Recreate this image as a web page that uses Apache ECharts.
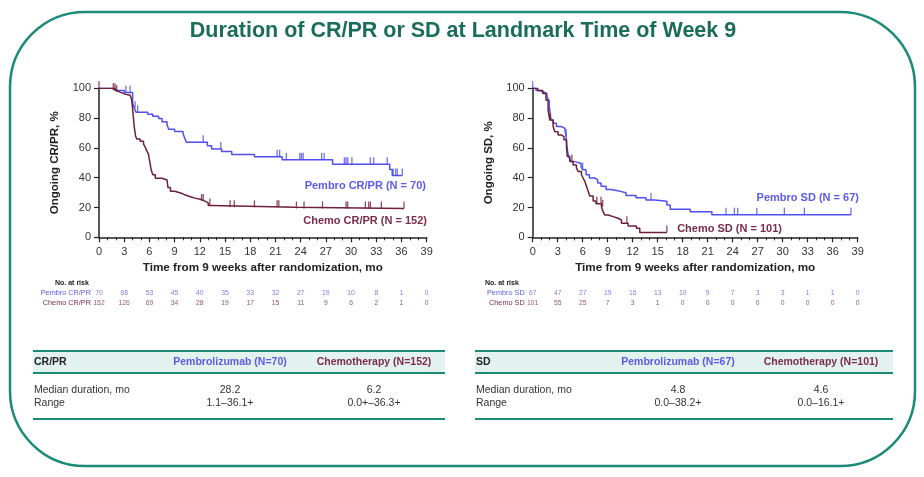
<!DOCTYPE html>
<html><head><meta charset="utf-8">
<script src="https://cdn.jsdelivr.net/npm/echarts@6/dist/echarts.min.js"></script>
<style>html,body{margin:0;padding:0;background:#fff}#c{width:924px;height:477px}</style>
</head><body><div id="c"></div>
<script>
// ---------- DATA ----------
const riskTimes = [0,3,6,9,12,15,18,21,24,27,30,33,36,39];
const pembroCRPR_risk = [70,68,53,45,40,35,33,32,27,19,10,8,1,0];
const chemoCRPR_risk  = [152,126,69,34,28,19,17,15,11,9,6,2,1,0];
const pembroSD_risk   = [67,47,27,19,16,13,10,9,7,3,3,1,1,0];
const chemoSD_risk    = [101,55,25,7,3,1,0,0,0,0,0,0,0,0];

// KM step curves: time (mo) and ongoing %
const pembroCRPR_t = [0,1.9,3.0,4.0,4.2,4.4,5.8,6.4,7.1,7.5,8.1,8.3,9.0,10.0,10.2,10.4,12.9,13.4,14.6,15.8,18.5,21.8,27.8,34.6,34.9,36.1];
const pembroCRPR_s = [100,98.5,97.1,90,86.6,84,82.6,81.2,79.8,77.6,75.4,72.5,71,69.6,66.7,63.8,61.5,59.2,57.6,55.5,54.1,52,49,45.5,41.5,41.5];
const pembroCRPR_cens = [3.2,3.7,4.3,4.6,12.4,14.5,21.2,21.5,22.3,23.9,24.1,24.3,26.5,26.8,29.2,29.4,29.6,30.1,32.3,32.7,34.3,35.0,35.3,35.5,36.1];

const chemoCRPR_t = [0,1.6,2.1,2.5,3.1,3.7,3.9,4.0,4.1,4.2,4.35,4.5,4.9,5.3,5.5,5.7,5.9,6.0,6.1,6.2,6.4,6.7,7.5,8.1,8.2,8.5,9.0,9.8,10.2,10.8,11.4,12.2,12.6,13.0,13.4,23.4,36.3];
const chemoCRPR_s = [100,98.7,97.4,96.1,95.4,94.1,92.1,86,80,74,68,66,64.5,62.5,60.5,58,55.5,52,49,45.5,42,39.6,38.5,37.2,33.5,30.9,29.6,28.5,27.4,26.3,25.3,24.3,23.1,21.4,20.1,19.3,19.3];
const chemoCRPR_cens = [0,1.7,1.9,2.1,12.2,12.4,13.2,15.6,16.1,18.5,21.2,21.4,23.5,24.4,26.6,29.4,29.6,31.7,32.1,32.3,33.6,36.3];

const pembroSD_t = [0,0.4,0.9,1.3,1.7,1.9,2.0,2.1,2.2,2.45,2.85,3.45,3.85,4.0,4.1,4.2,4.4,4.6,5.0,5.8,6.0,6.4,6.8,7.4,7.8,8.2,8.8,9.4,10.4,11.2,12.4,13.6,14.6,16.1,16.5,18.9,21.5,38.2];
const pembroSD_s = [100,98.5,97.5,96.5,94.8,92,87.7,83.2,78.7,76.5,74.3,73.2,72.1,68,62,57,53,50.8,49.7,47.5,45.3,42,39.8,38.7,36.5,34.3,32.1,31,29.9,28.1,26.6,25,24.2,21.7,18.8,17.2,15.2,15.2];
const pembroSD_cens = [0,2.0,4.0,6.0,14.2,23.2,24.2,24.6,26.9,30.2,32.6,38.2];

const chemoSD_t = [0,0.6,1.2,1.6,1.85,2.05,2.45,2.65,3.05,3.45,3.75,4.05,4.15,4.45,4.85,5.25,5.45,5.85,6.05,6.25,6.45,6.65,6.85,7.25,7.6,8.25,8.45,8.65,9.05,9.65,10.25,10.65,11.45,12.45,12.85,16.1];
const chemoSD_s = [100,98.5,96.5,92,85.4,78.7,74.3,70.9,68.7,67.6,65.4,61,54.3,50.8,48.6,46.4,44.2,42,39.8,37.6,34.3,31,27.7,24.4,22.5,20.5,17.2,15,13.9,12.8,11.6,9.4,7.6,6.1,3.2,3.2];
const chemoSD_cens = [2.1,4.7,7.7,8.2,8.4,11.3,16.1];

// ---------- STYLE ----------
const BLUE = '#4f4ff0', MAROON = '#6e1f3b';
const BLUE_T = '#5b5be6', MAROON_T = '#7a2d47';
const TEAL = '#1b8a78', TITLE = '#1a6c5b';
const FF = "'Liberation Sans', Arial, sans-serif";

function survAt(t, ts, ss){ let v = ss[0]; for(let i=0;i<ts.length;i++){ if(ts[i] <= t) v = ss[i]; } return v; }
function zip(ts, ss){ return ts.map((t,i)=>[t, ss[i]]); }
function cens(c, ts, ss){ return c.map(t=>[t, survAt(t, ts, ss)]); }

const G = [
  {left:99, top:88.3, width:327.7, height:149},
  {left:532.7, top:88.3, width:325, height:149},
  {left:99, top:287.5, width:327.7, height:20.6},
  {left:532.7, top:287.5, width:325, height:20.6}
];

function xAx(i){ return {gridIndex:i, type:'value', min:0, max:39, interval:3,
  name:'Time from 9 weeks after randomization, mo', nameLocation:'middle', nameGap:24,
  nameTextStyle:{fontFamily:FF, fontWeight:'bold', fontSize:11.7, color:'#222'},
  axisLine:{lineStyle:{color:'#222', width:1.5}}, axisTick:{length:5, lineStyle:{color:'#222', width:1.2}},
  minorTick:{show:true, splitNumber:3, length:3, lineStyle:{color:'#222', width:1}},
  axisLabel:{fontFamily:FF, fontSize:11, color:'#333', margin:9}, splitLine:{show:false}}; }
function yAx(i, name){ return {gridIndex:i, type:'value', min:0, max:100, interval:20,
  name:name, nameLocation:'middle', nameGap:38, nameRotate:90,
  nameTextStyle:{fontFamily:FF, fontWeight:'bold', fontSize:11.5, color:'#222'},
  axisLine:{show:true, lineStyle:{color:'#222', width:1.5}}, axisTick:{show:true, length:5, lineStyle:{color:'#222', width:1.2}},
  axisLabel:{fontFamily:FF, fontSize:11, color:'#333', margin:8}, splitLine:{show:false}}; }
function riskX(i){ return {gridIndex:i, type:'value', min:0, max:39, show:false}; }
function riskY(i, cats){ return {gridIndex:i, type:'category', data:cats, inverse:true, axisLine:{show:false}, axisTick:{show:false},
  axisLabel:{interval:0, margin:8, fontFamily:FF, fontSize:7.3, formatter:(v,idx)=> idx===0 ? '{p|'+v+'}' : '{c|'+v+'}',
    rich:{p:{color:BLUE_T, fontSize:7.3, fontFamily:FF}, c:{color:MAROON_T, fontSize:7.3, fontFamily:FF}}}}; }

function line(xi, ts, ss, col){ return {type:'line', xAxisIndex:xi, yAxisIndex:xi, data:zip(ts,ss), step:'end', showSymbol:false,
  lineStyle:{color:col, width:1.5}, itemStyle:{color:col}, animation:false, z:3}; }
function ticks(xi, c, ts, ss, col){ return {type:'scatter', xAxisIndex:xi, yAxisIndex:xi, data:cens(c,ts,ss), symbol:'rect',
  symbolSize:[1.3,7], symbolOffset:[0,-3.5], itemStyle:{color:col}, clip:false, animation:false, z:4}; }
function risk(xi, cat, vals, col){ return {type:'scatter', xAxisIndex:xi, yAxisIndex:xi, data:riskTimes.map((t,i)=>[t, cat, vals[i]]),
  symbolSize:0, label:{show:true, position:'inside', formatter:p=>p.value[2], fontFamily:FF, fontSize:6.8, color:col}, animation:false}; }

function txt(x,y,s,o){ return Object.assign({type:'text', x:x, y:y, style:Object.assign({text:s, fontFamily:FF, fontSize:10.5, fill:'#333', textVerticalAlign:'middle'}, o||{})}); }
function table(x0, x1, c1, c2, head, h1, h2, med1, med2, r1, r2){
  return [
    {type:'rect', shape:{x:x0, y:351, width:x1-x0, height:22}, style:{fill:'#e2f3ef'}},
    {type:'line', shape:{x1:x0, y1:351, x2:x1, y2:351}, style:{stroke:TEAL, lineWidth:2}},
    {type:'line', shape:{x1:x0, y1:373, x2:x1, y2:373}, style:{stroke:TEAL, lineWidth:2}},
    {type:'line', shape:{x1:x0, y1:419, x2:x1, y2:419}, style:{stroke:TEAL, lineWidth:2}},
    txt(x0+1, 362, head, {fontWeight:'bold', fill:'#222'}),
    txt(c1, 362, h1, {fontWeight:'bold', fill:BLUE_T, textAlign:'center'}),
    txt(c2, 362, h2, {fontWeight:'bold', fill:MAROON_T, textAlign:'center'}),
    txt(x0+1, 390, 'Median duration, mo'), txt(x0+1, 403, 'Range'),
    txt(c1, 390, med1, {textAlign:'center'}), txt(c2, 390, med2, {textAlign:'center'}),
    txt(c1, 403, r1, {textAlign:'center'}), txt(c2, 403, r2, {textAlign:'center'})
  ];
}

const chart = echarts.init(document.getElementById('c'), null, {renderer:'canvas'});
chart.setOption({
  animation:false,
  backgroundColor:'#fff',
  grid:G,
  xAxis:[xAx(0), xAx(1), riskX(2), riskX(3)],
  yAxis:[yAx(0,'Ongoing CR/PR, %'), yAx(1,'Ongoing SD, %'), riskY(2,['Pembro CR/PR','Chemo CR/PR']), riskY(3,['Pembro SD','Chemo SD'])],
  series:[
    line(0, pembroCRPR_t, pembroCRPR_s, BLUE), line(0, chemoCRPR_t, chemoCRPR_s, MAROON),
    ticks(0, pembroCRPR_cens, pembroCRPR_t, pembroCRPR_s, BLUE), ticks(0, chemoCRPR_cens, chemoCRPR_t, chemoCRPR_s, MAROON),
    line(1, pembroSD_t, pembroSD_s, BLUE), line(1, chemoSD_t, chemoSD_s, MAROON),
    ticks(1, pembroSD_cens, pembroSD_t, pembroSD_s, BLUE), ticks(1, chemoSD_cens, chemoSD_t, chemoSD_s, MAROON),
    risk(2, 'Pembro CR/PR', pembroCRPR_risk, BLUE_T), risk(2, 'Chemo CR/PR', chemoCRPR_risk, MAROON_T),
    risk(3, 'Pembro SD', pembroSD_risk, BLUE_T), risk(3, 'Chemo SD', chemoSD_risk, MAROON_T)
  ],
  graphic:[
    {type:'rect', shape:{x:10, y:12, width:905, height:454, r:75}, style:{fill:'none', stroke:TEAL, lineWidth:2.5}},
    txt(463, 31, 'Duration of CR/PR or SD at Landmark Time of Week 9', {fontSize:21.5, fontWeight:'bold', fill:TITLE, textAlign:'center'}),
    txt(426, 186, 'Pembro CR/PR (N = 70)', {fontSize:11, fontWeight:'bold', fill:BLUE_T, textAlign:'right'}),
    txt(427, 220.5, 'Chemo CR/PR (N = 152)', {fontSize:11, fontWeight:'bold', fill:MAROON_T, textAlign:'right'}),
    txt(859, 197.5, 'Pembro SD (N = 67)', {fontSize:11, fontWeight:'bold', fill:BLUE_T, textAlign:'right'}),
    txt(782, 229, 'Chemo SD (N = 101)', {fontSize:11, fontWeight:'bold', fill:MAROON_T, textAlign:'right'}),
    txt(55, 283, 'No. at risk', {fontSize:7, fontWeight:'bold', fill:'#222'}),
    txt(485, 283, 'No. at risk', {fontSize:7, fontWeight:'bold', fill:'#222'})
  ].concat(
    table(33, 445, 230, 374, 'CR/PR', 'Pembrolizumab (N=70)', 'Chemotherapy (N=152)', '28.2', '6.2', '1.1\u201336.1+', '0.0+\u201336.3+'),
    table(475, 893, 678, 821, 'SD', 'Pembrolizumab (N=67)', 'Chemotherapy (N=101)', '4.8', '4.6', '0.0\u201338.2+', '0.0\u201316.1+')
  )
});
</script></body></html>
